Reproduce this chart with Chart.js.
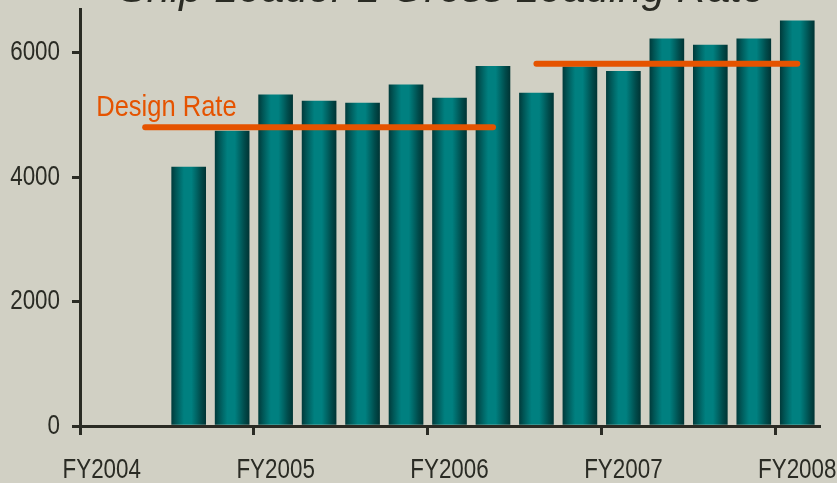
<!DOCTYPE html>
<html>
<head>
<meta charset="utf-8">
<script src="https://cdn.jsdelivr.net/npm/chart.js@4.4.0/dist/chart.umd.min.js"></script>
<style>
  html, body { margin:0; padding:0; background:#d1d0c4; overflow:hidden; }
</style>
</head>
<body>
<canvas id="chart" width="837" height="483"></canvas>
<script>
// ---------------- 資料 ----------------
const quarters = ['FY2004','','','','FY2005','','','','FY2006','','','','FY2007','','','','FY2008'];
const loadingRate = [null, null, 4160, 4740, 5320, 5220, 5190, 5480, 5270, 5780, 5350, 5770, 5700, 6220, 6120, 6220, 6510];
const designRateA = [null, 4800, 4800, 4800, 4800, 4800, 4800, 4800, 4800, 4800, null, null, null, null, null, null, null];
const designRateB = [null, null, null, null, null, null, null, null, null, null, 5820, 5820, 5820, 5820, 5820, 5820, 5820];
const yTicks = [0, 2000, 4000, 6000];
const titleText = 'Ship Loader 1 Gross Loading Rate';
const designLabel = 'Design Rate';

// ---------------- 樣式 ----------------
const dark = '#2a2b24';
const orange = '#e55300';
const sans = '"Liberation Sans", Arial, sans-serif';

// ---------------- 窄體文字（水平壓縮） ----------------
const ctx = document.getElementById('chart').getContext('2d');
const origFillText = ctx.fillText.bind(ctx);
ctx.narrowScale = 1;
ctx.fillText = function (text, x, y, maxWidth) {
  if (this.narrowScale === 1) return origFillText(text, x, y, maxWidth);
  this.save();
  this.translate(x, y);
  this.scale(this.narrowScale, 1);
  origFillText(text, 0, 0);
  this.restore();
};

// 每根柱子的水平漸層
function barGradient(context) {
  const chart = context.chart;
  const xs = chart.scales.x;
  if (!xs || !chart.chartArea) return '#007a7a';
  const cx = xs.getPixelForValue(context.dataIndex);
  const g = chart.ctx.createLinearGradient(cx - 17, 0, cx + 17, 0);
  g.addColorStop(0, '#003c3c');
  g.addColorStop(0.12, '#005555');
  g.addColorStop(0.25, '#006d6d');
  g.addColorStop(0.36, '#008080');
  g.addColorStop(0.58, '#008080');
  g.addColorStop(0.72, '#006666');
  g.addColorStop(0.86, '#004b4b');
  g.addColorStop(1, '#003535');
  return g;
}

// 標題與 Design Rate 文字
const textPlugin = {
  id: 'textPlugin',
  beforeDraw(chart) { chart.ctx.narrowScale = 0.8; },
  afterDraw(chart) {
    const c = chart.ctx;
    const xs = chart.scales.x, ys = chart.scales.y;
    c.save();
    c.narrowScale = 1;
    c.font = 'italic 42px ' + sans;
    c.fillStyle = dark;
    c.textAlign = 'center';
    c.textBaseline = 'alphabetic';
    c.fillText(titleText, 442, 2);
    c.narrowScale = 0.88;
    c.font = '29px ' + sans;
    c.fillStyle = orange;
    c.textAlign = 'left';
    c.fillText(designLabel, xs.getPixelForValue(1) - 49, ys.getPixelForValue(designRateA[1]) - 11);
    c.narrowScale = 1;
    c.restore();
  }
};

const chart = new Chart(ctx, {
  type: 'bar',
  data: {
    labels: quarters,
    datasets: [
      { type: 'line', data: designRateA, borderColor: orange, borderWidth: 6, borderCapStyle: 'round',
        pointRadius: 0, spanGaps: false, order: 0 },
      { type: 'line', data: designRateB, borderColor: orange, borderWidth: 6, borderCapStyle: 'round',
        pointRadius: 0, spanGaps: false, order: 0 },
      { type: 'bar', data: loadingRate, backgroundColor: barGradient, borderWidth: 0,
        barThickness: 34, order: 1 }
    ]
  },
  options: {
    responsive: false,
    animation: false,
    layout: { padding: { top: 9, right: 18, left: 0, bottom: 0 } },
    plugins: { legend: { display: false }, tooltip: { enabled: false } },
    scales: {
      x: {
        type: 'category',
        offset: true,
        grid: {
          display: true, drawOnChartArea: false, drawTicks: true, offset: true,
          tickLength: 9, lineWidth: 3,
          color: c => (c.index !== undefined && c.index % 4 === 0) ? dark : 'rgba(0,0,0,0)'
        },
        border: { display: true, color: dark, width: 3 },
        ticks: { autoSkip: false, maxRotation: 0, color: dark, padding: 18,
          font: { family: sans, size: 28 } },
        afterFit: s => { s.height = 57; s.paddingLeft = 0; s.paddingRight = 0; }
      },
      y: {
        min: 0, max: 6700,
        afterBuildTicks: s => { s.ticks = yTicks.map(v => ({ value: v })); },
        grid: { drawOnChartArea: false, tickLength: 8, lineWidth: 3, color: dark },
        border: { display: true, color: dark, width: 3 },
        ticks: { color: dark, padding: 12, font: { family: sans, size: 28 },
          callback: v => String(v) },
        afterFit: s => { s.width = 80; s.paddingTop = 0; s.paddingBottom = 0; }
      }
    }
  },
  plugins: [textPlugin]
});
</script>
</body>
</html>
